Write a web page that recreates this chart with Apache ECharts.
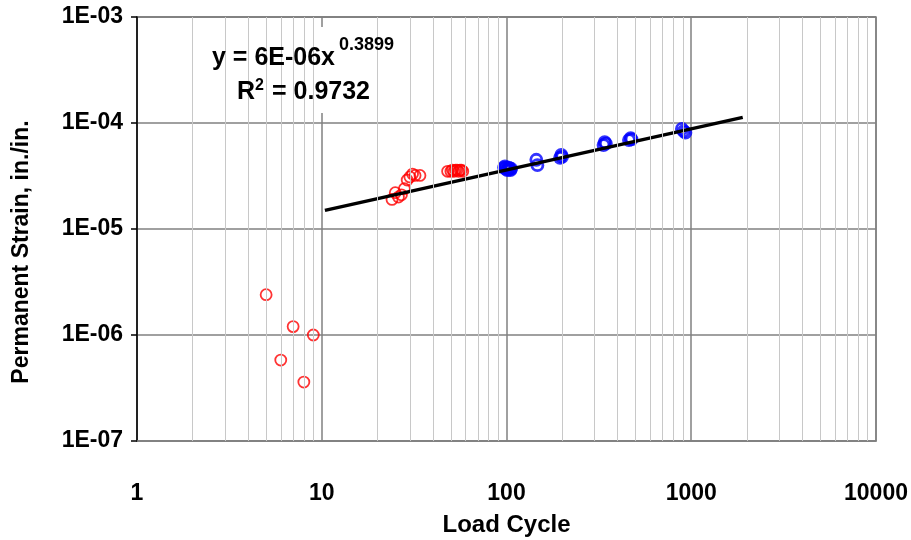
<!DOCTYPE html>
<html><head><meta charset="utf-8">
<script src="https://cdn.jsdelivr.net/npm/echarts@6/dist/echarts.min.js"></script>
<style>html,body{margin:0;padding:0;background:#fff}#c{width:911px;height:540px}</style>
</head><body><div id="c"></div>
<script>
// Data
const redX = [5, 6, 7, 8, 9, 24, 25, 26, 27, 28, 29, 30, 31, 32, 34, 48, 50, 51, 52, 53, 54, 55, 56, 57, 58];
const redY = [2.4e-6, 5.8e-7, 1.2e-6, 3.6e-7, 1.0e-6, 1.9e-5, 2.2e-5, 2.0e-5, 2.1e-5, 2.4e-5, 2.9e-5, 3.1e-5, 3.3e-5, 3.2e-5, 3.2e-5, 3.5e-5, 3.5e-5, 3.6e-5, 3.5e-5, 3.6e-5, 3.6e-5, 3.5e-5, 3.6e-5, 3.6e-5, 3.5e-5];
const blueX = [97, 98, 99, 100, 101, 102, 103, 104, 105, 106, 145, 147, 195, 198, 200, 335, 340, 345, 460, 470, 475, 890, 910, 930];
const blueY = [3.8e-5, 3.9e-5, 3.7e-5, 3.8e-5, 3.6e-5, 3.7e-5, 3.8e-5, 3.7e-5, 3.6e-5, 3.7e-5, 4.5e-5, 4.0e-5, 4.7e-5, 5.0e-5, 4.8e-5, 6.2e-5, 6.6e-5, 6.4e-5, 6.9e-5, 7.2e-5, 7.0e-5, 8.8e-5, 8.4e-5, 8.1e-5];
const trendX = [10.4, 1900];
const trendY = [1.5e-5, 1.13e-4];
const xTicks = ['1', '10', '100', '1000', '10000'];
const yTicks = ['1E-07', '1E-06', '1E-05', '1E-04', '1E-03'];
const yTitle = 'Permanent Strain, in./in.';
const eqMain = 'y = 6E-06x';
const eqExp = '0.3899';
const r2Base = 'R';
const r2Sup = '2';
const r2Rest = '= 0.9732';

const zip = (a, b) => a.map((v, i) => [v, b[i]]);
// minor grid positions 2..9 per decade
const minorX = [], minorY = [];
for (let d = 0; d < 4; d++) for (let m = 2; m <= 9; m++) minorX.push(m * Math.pow(10, d));
for (let d = -7; d < -3; d++) for (let m = 2; m <= 9; m++) minorY.push(m * Math.pow(10, d));

const font = 'Liberation Sans, Arial, sans-serif';
const txt = (s, x, y, size) => ({
  type: 'text', z: 6, silent: true,
  style: { text: s, x: x, y: y, fill: '#000', textAlign: 'left', textVerticalAlign: 'middle', verticalAlign: 'middle',
    font: 'bold ' + size + 'px ' + font }
});
const chart = echarts.init(document.getElementById('c'));
chart.setOption({
  animation: false,
  grid: { left: 137, right: 35, top: 17, bottom: 99, outerBoundsMode: 'none', containLabel: false,
    show: true, borderColor: '#808080', borderWidth: 1.5 },
  xAxis: {
    type: 'log', logBase: 10, min: 1, max: 10000,
    name: 'Load Cycle', nameLocation: 'middle', nameGap: 72,
    nameTextStyle: { fontFamily: font, fontWeight: 'bold', fontSize: 24, color: '#000' },
    axisLine: { lineStyle: { color: '#808080', width: 1.5 } },
    axisTick: { show: false },
    axisLabel: { margin: 41, fontFamily: font, fontWeight: 'bold', fontSize: 23, color: '#000',
      formatter: v => xTicks[Math.round(Math.log10(v))] },
    splitLine: { show: true, lineStyle: { color: '#808080', width: 1.5 } }
  },
  yAxis: {
    type: 'log', logBase: 10, min: 1e-7, max: 1e-3,
    axisLine: { lineStyle: { color: '#000', width: 1.5 } },
    axisTick: { show: true, length: 6, lineStyle: { color: '#000', width: 1.5 } },
    axisLabel: { margin: 14, fontFamily: font, fontWeight: 'bold', fontSize: 23, color: '#000',
      formatter: v => yTicks[Math.round(Math.log10(v)) + 7] },
    splitLine: { show: true, lineStyle: { color: '#808080', width: 1.5 } }
  },
  graphic: [
    { type: 'text', silent: true, x: 22, y: 252, rotation: Math.PI / 2,
      style: { text: yTitle, x: 0, y: 0, fill: '#000', align: 'center', verticalAlign: 'middle',
        font: 'bold 23px ' + font } },
    { type: 'rect', z: 5, silent: true, shape: { x: 208, y: 27, width: 190, height: 86 }, style: { fill: '#fff' } },
    txt(eqMain, 212, 58, 25),
    txt(eqExp, 339, 45, 18),
    txt(r2Base, 237, 92, 25),
    txt(r2Sup, 255, 86, 16),
    txt(r2Rest, 272, 92, 25)
  ],
  series: [{
    type: 'line', data: [], silent: true,
    markLine: {
      silent: true, symbol: 'none', label: { show: false }, animation: false,
      lineStyle: { color: '#c8c8c8', width: 1, type: 'solid' },
      data: minorX.map(v => ({ xAxis: v })).concat(minorY.map(v => ({ yAxis: v })))
    },
    z: 0
  }, {
    type: 'scatter', data: zip(redX, redY), symbol: 'circle', symbolSize: 11,
    itemStyle: { color: 'rgba(0,0,0,0)', borderColor: '#ff0000', borderWidth: 1.8 }, z: 3
  }, {
    type: 'scatter', data: zip(blueX, blueY), symbol: 'circle', symbolSize: 11,
    itemStyle: { color: 'rgba(0,0,0,0)', borderColor: '#0000ff', borderWidth: 2.8 }, z: 3
  }, {
    type: 'line', data: zip(trendX, trendY), showSymbol: false,
    lineStyle: { color: '#000', width: 3.5 }, z: 4
  }]
});
</script></body></html>
